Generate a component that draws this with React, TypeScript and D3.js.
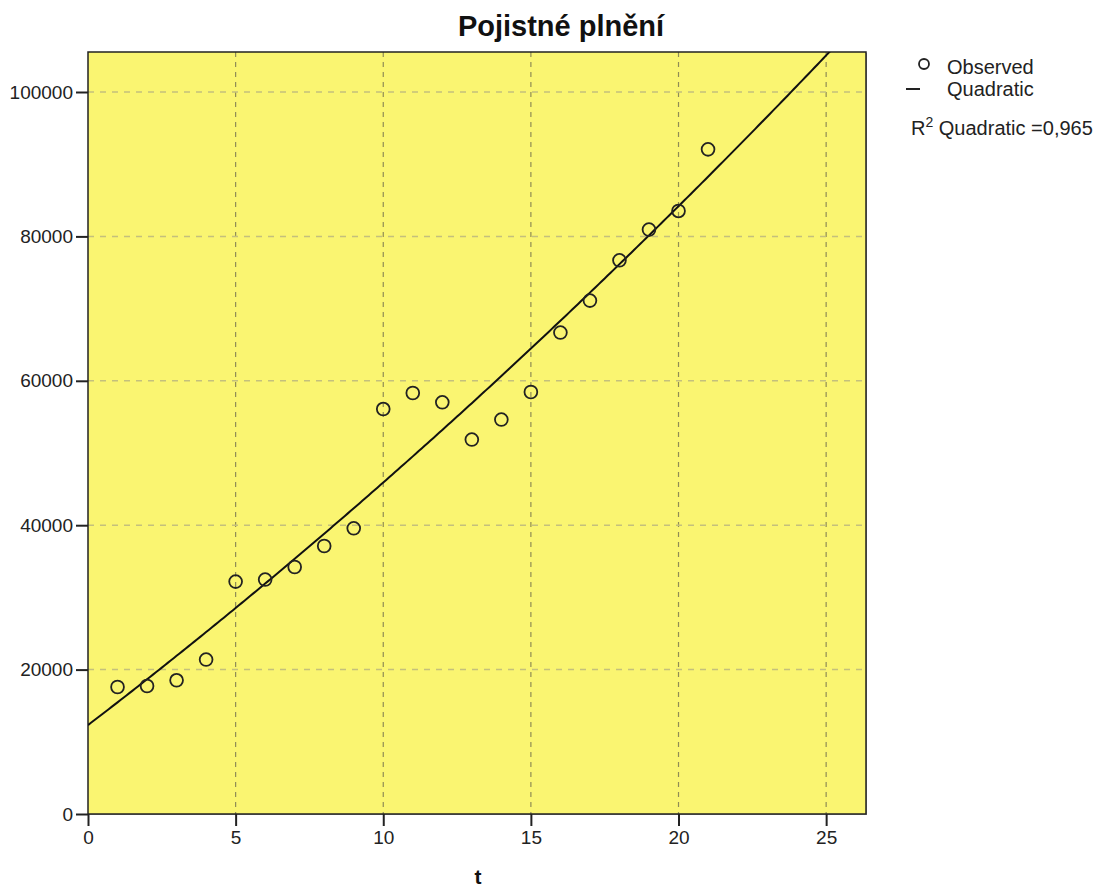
import * as d3 from "d3";
import { useRef, useEffect } from "react";

const tValues = [1, 2, 3, 4, 5, 6, 7, 8, 9, 10, 11, 12, 13, 14, 15, 16, 17, 18, 19, 20, 21];
const observed = [
  17590, 17730, 18520, 21390, 32190, 32470, 34210, 37120, 39570, 56090, 58310,
  57020, 51860, 54630, 58450, 66680, 71110, 76690, 80940, 83520, 92060,
];
const xTicks = [0, 5, 10, 15, 20, 25];
const yTicks = [0, 20000, 40000, 60000, 80000, 100000];

// least squares quadratic fit of the observed points
const fitQuadratic = (xs: number[], ys: number[]) => {
  const s = (f: (x: number, y: number) => number) =>
    d3.sum(xs.map((x, i) => f(x, ys[i])));
  const m = [
    [xs.length, s((x) => x), s((x) => x * x), s((x, y) => y)],
    [s((x) => x), s((x) => x * x), s((x) => x ** 3), s((x, y) => x * y)],
    [s((x) => x * x), s((x) => x ** 3), s((x) => x ** 4), s((x, y) => x * x * y)],
  ];
  for (let i = 0; i < 3; i++) {
    for (let j = i + 1; j < 3; j++) {
      const f = m[j][i] / m[i][i];
      for (let k = i; k < 4; k++) m[j][k] -= f * m[i][k];
    }
  }
  const c = [0, 0, 0];
  for (let i = 2; i >= 0; i--) {
    let v = m[i][3];
    for (let k = i + 1; k < 3; k++) v -= m[i][k] * c[k];
    c[i] = v / m[i][i];
  }
  return c;
};

const Chart = () => {
  const container = useRef<SVGSVGElement | null>(null);

  useEffect(() => {
    const svg = d3.select(container.current);
    svg.selectAll("*").remove();

    const font = "Arial, 'Liberation Sans', sans-serif";
    const plot = { l: 88, r: 866, t: 52, b: 814 };

    const xScale = d3.scaleLinear().domain([0, 26.35]).range([plot.l, plot.r]);
    const yScale = d3.scaleLinear().domain([0, 105540]).range([plot.b, plot.t]);

    // background + shadow
    svg
      .append("rect")
      .attr("x", plot.l + 1)
      .attr("y", plot.t + 1)
      .attr("width", plot.r - plot.l)
      .attr("height", plot.b - plot.t)
      .attr("fill", "#9a9a9a");
    svg
      .append("rect")
      .attr("x", plot.l)
      .attr("y", plot.t)
      .attr("width", plot.r - plot.l)
      .attr("height", plot.b - plot.t)
      .attr("fill", "#faf571");

    // grid
    const grid_g = svg.append("g");
    grid_g
      .selectAll(".vgrid")
      .data(xTicks.filter((d) => d > 0))
      .join("line")
      .attr("x1", (d) => xScale(d))
      .attr("x2", (d) => xScale(d))
      .attr("y1", plot.t)
      .attr("y2", plot.b)
      .attr("stroke", "#8f8c55")
      .attr("stroke-width", 1.2)
      .attr("stroke-dasharray", "5 5");
    grid_g
      .selectAll(".hgrid")
      .data(yTicks.filter((d) => d > 0))
      .join("line")
      .attr("x1", plot.l)
      .attr("x2", plot.r)
      .attr("y1", (d) => yScale(d))
      .attr("y2", (d) => yScale(d))
      .attr("stroke", "#c4c07c")
      .attr("stroke-width", 1.5)
      .attr("stroke-dasharray", "6 6");

    // frame
    svg
      .append("rect")
      .attr("x", plot.l)
      .attr("y", plot.t)
      .attr("width", plot.r - plot.l)
      .attr("height", plot.b - plot.t)
      .attr("fill", "none")
      .attr("stroke", "#222")
      .attr("stroke-width", 1.5);

    // clip for fit line
    svg
      .append("clipPath")
      .attr("id", "plot-clip")
      .append("rect")
      .attr("x", plot.l)
      .attr("y", plot.t)
      .attr("width", plot.r - plot.l)
      .attr("height", plot.b - plot.t);

    const [a, b, c] = fitQuadratic(tValues, observed);
    const curveX = d3.range(0, 26.4, 0.1);
    svg
      .append("path")
      .datum(curveX)
      .attr("clip-path", "url(#plot-clip)")
      .attr("fill", "none")
      .attr("stroke", "#111")
      .attr("stroke-width", 2)
      .attr(
        "d",
        d3
          .line<number>()
          .x((d) => xScale(d))
          .y((d) => yScale(a + b * d + c * d * d))
      );

    // observed points
    svg
      .selectAll(".obs")
      .data(tValues)
      .join("circle")
      .attr("class", "obs")
      .attr("cx", (d) => xScale(d))
      .attr("cy", (d, i) => yScale(observed[i]))
      .attr("r", 6.4)
      .attr("fill", "none")
      .attr("stroke", "#222")
      .attr("stroke-width", 1.8);

    // axes
    const xAxis = d3.axisBottom(xScale).tickValues(xTicks).tickSize(12).tickSizeOuter(0);
    const xg = svg
      .append("g")
      .attr("transform", `translate(0,${plot.b})`)
      .call(xAxis);
    xg.select(".domain").remove();
    xg.selectAll("line").attr("stroke", "#222").attr("stroke-width", 2);
    xg.selectAll("text")
      .attr("font-family", font)
      .attr("font-size", 19)
      .attr("fill", "#222")
      .attr("y", 14)
      .attr("dy", "0.85em");

    const yAxis = d3
      .axisLeft(yScale)
      .tickValues(yTicks)
      .tickFormat(d3.format("d"))
      .tickSize(12)
      .tickSizeOuter(0);
    const yg = svg
      .append("g")
      .attr("transform", `translate(${plot.l},0)`)
      .call(yAxis);
    yg.select(".domain").remove();
    yg.selectAll("line").attr("stroke", "#222").attr("stroke-width", 2);
    yg.selectAll("text")
      .attr("font-family", font)
      .attr("font-size", 19)
      .attr("fill", "#222")
      .attr("x", -15);

    // title and axis label
    svg
      .append("text")
      .attr("x", 561)
      .attr("y", 36)
      .attr("text-anchor", "middle")
      .attr("font-family", font)
      .attr("font-weight", "bold")
      .attr("font-size", 29)
      .attr("fill", "#111")
      .text("Pojistné plnění");
    svg
      .append("text")
      .attr("x", 478)
      .attr("y", 884)
      .attr("text-anchor", "middle")
      .attr("font-family", font)
      .attr("font-weight", "bold")
      .attr("font-size", 21)
      .attr("fill", "#111")
      .text("t");

    // legend
    const leg = svg.append("g").attr("font-family", font).attr("font-size", 20).attr("fill", "#222");
    leg
      .append("circle")
      .attr("cx", 924)
      .attr("cy", 64)
      .attr("r", 5)
      .attr("fill", "none")
      .attr("stroke", "#222")
      .attr("stroke-width", 1.8);
    leg.append("text").attr("x", 947).attr("y", 74).text("Observed");
    leg
      .append("line")
      .attr("x1", 906)
      .attr("x2", 920)
      .attr("y1", 89)
      .attr("y2", 89)
      .attr("stroke", "#222")
      .attr("stroke-width", 2);
    leg.append("text").attr("x", 947).attr("y", 96).text("Quadratic");
    const r2 = leg.append("text").attr("x", 911).attr("y", 135);
    r2.append("tspan").text("R");
    r2.append("tspan").attr("font-size", 14).attr("dy", -8).text("2");
    r2.append("tspan").attr("dy", 8).text(" Quadratic =0,965");
  }, []);

  return (
    <svg
      ref={container}
      width={1098}
      height={892}
      style={{ position: "absolute", left: 0, top: 0, background: "#fff" }}
    />
  );
};

export default function App() {
  return <Chart />;
}
